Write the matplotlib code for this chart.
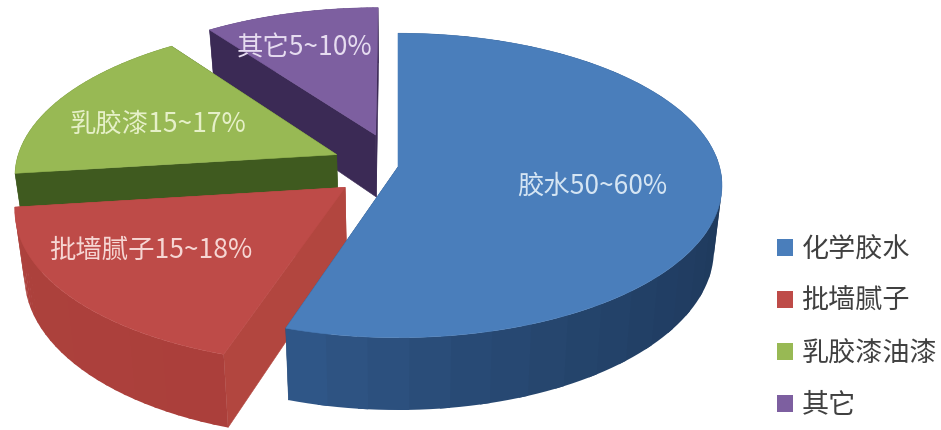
import numpy as np
import matplotlib
matplotlib.use("Agg")
import matplotlib.pyplot as plt
from matplotlib.patches import Polygon, Patch

plt.rcParams['font.family'] = ['Noto Sans CJK SC', 'DejaVu Sans']

# Shares of each component, percent
legend_names = ['化学胶水', '批墙腻子', '乳胶漆油漆', '其它']
slice_labels = ['胶水50~60%', '批墙腻子15~18%', '乳胶漆15~17%', '其它5~10%']
shares = [55, 18, 17, 10]

# Slice appearance and pull-out from the pie centre
explode = [0.0, 0.21, 0.21, 0.23]
top_colors = ['#4a7ebb', '#be4b48', '#98b954', '#7d5fa0']
wall_start = ['#1c3556', '#ab3f3b', '#3f5a1f', '#3b2a55']
wall_end = ['#31598b', '#ad423d', '#3f5a1f', '#3b2a55']
radial_colors = ['#2c4d78', '#b2463f', '#3f5a1f', '#3b2a55']
label_xy = [(592, 186), (151, 250), (158, 124), (305, 48)]
label_colors = ['#d5e5f3', '#f6d6d3', '#e6f0c8', '#e6dcf0']

# Perspective camera, in pixels
CX, CY, RX, RY, K = 398.0, 167.0, 321.6, 150.0, 0.121
DEPTH, SHRINK = 63.6, 0.975


def project(u, v, lower=False):
    """Map pie-plane coordinates to the figure, optionally on the lower face."""
    w = 1 - K * v
    x = RX * u / w
    y = RY * v / w
    if lower:
        x = x * SHRINK
        y = y + DEPTH / w
    return np.column_stack([CX + x, CY + y])


def blend(c0, c1, t):
    a, b = np.array(matplotlib.colors.to_rgb(c0)), np.array(matplotlib.colors.to_rgb(c1))
    return tuple(a + (b - a) * t)


fig = plt.figure(figsize=(9.41, 4.30), dpi=100)
ax = fig.add_axes([0, 0, 1, 1])
ax.set_xlim(0, 941)
ax.set_ylim(430, 0)
ax.axis('off')

edges = np.cumsum([0] + shares) / sum(shares) * 2 * np.pi
count = len(shares)

for i in range(count):
    a0, a1 = edges[i], edges[i + 1]
    mid = (a0 + a1) / 2
    u0 = np.sin(mid) * explode[i]
    v0 = -np.cos(mid) * explode[i]
    theta = np.linspace(a0, a1, 121)
    us = u0 + np.sin(theta)
    vs = v0 - np.cos(theta)
    apex = np.array([u0]), np.array([v0])
    base_z = (count - i) * 3

    # Radial side walls
    for end in (0, -1):
        uu = np.array([u0, us[end]])
        vv = np.array([v0, vs[end]])
        wall = np.vstack([project(uu, vv), project(uu, vv, True)[::-1]])
        ax.add_patch(Polygon(wall, closed=True, fc=radial_colors[i],
                             ec=radial_colors[i], lw=0.4, zorder=base_z))

    # Curved outer wall, shaded in coarse overlapping strips
    upper = project(us, vs)
    lower = project(us, vs, True)
    step = 4
    for j in range(0, len(theta) - 1, step):
        t = j / (len(theta) - 2)
        col = blend(wall_start[i], wall_end[i], t ** 3 if i == 0 else t)
        k = min(j + step + 1, len(theta) - 1)
        quad = np.vstack([upper[j:k + 1], lower[j:k + 1][::-1]])
        ax.add_patch(Polygon(quad, closed=True, fc=col, ec='none', zorder=base_z + 1))

    # Top face
    outline = np.vstack([project(*apex), upper])
    ax.add_patch(Polygon(outline, closed=True, fc=top_colors[i], ec=top_colors[i],
                         lw=0.4, zorder=base_z + 2))

for text, (x, y), col in zip(slice_labels, label_xy, label_colors):
    ax.text(x, y, text, ha='center', va='center', fontsize=19, color=col, zorder=30)

handles = [Patch(fc=c, ec='none') for c in top_colors]
ax.legend(handles, legend_names, loc='upper left', bbox_to_anchor=(777 / 941, 1 - 236 / 430),
          bbox_transform=fig.transFigure, frameon=False, fontsize=19.5,
          handlelength=0.6, handleheight=0.6, handletextpad=0.3,
          labelspacing=0.92, borderpad=0, borderaxespad=0, labelcolor='#404040')

fig.savefig('out.png', dpi=100, facecolor='white')
